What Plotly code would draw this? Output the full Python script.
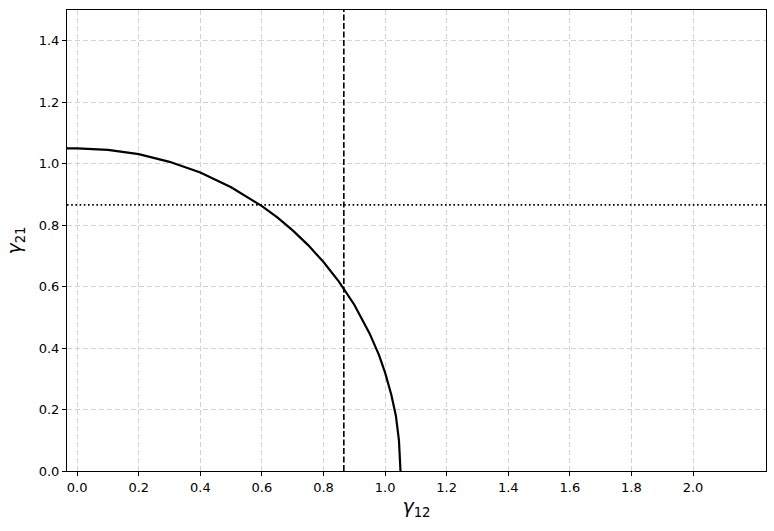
import plotly.graph_objects as go

# Curve points
curve_x = [-0.05, 0.0, 0.1, 0.2, 0.3, 0.4, 0.5, 0.6, 0.65, 0.7, 0.75, 0.8, 0.85, 0.9, 0.95, 0.98, 1.0, 1.02, 1.035, 1.045, 1.05]
curve_y = [1.05, 1.05, 1.045, 1.031, 1.006, 0.971, 0.923, 0.862, 0.825, 0.783, 0.735, 0.680, 0.616, 0.541, 0.447, 0.378, 0.320, 0.249, 0.180, 0.100, 0.0]

vline_x = 0.866
hline_y = 0.866

x_ticks = [0.0, 0.2, 0.4, 0.6, 0.8, 1.0, 1.2, 1.4, 1.6, 1.8, 2.0]
y_ticks = [0.0, 0.2, 0.4, 0.6, 0.8, 1.0, 1.2, 1.4]
x_range = [-0.033, 2.237]
y_range = [0.0, 1.5]

fig = go.Figure()
fig.add_trace(go.Scatter(x=curve_x, y=curve_y, mode="lines",
                         line=dict(color="black", width=2.2), showlegend=False))
fig.add_trace(go.Scatter(x=[vline_x, vline_x], y=y_range, mode="lines",
                         line=dict(color="black", width=1.6, dash="6px,2.5px"), showlegend=False))
fig.add_trace(go.Scatter(x=x_range, y=[hline_y, hline_y], mode="lines",
                         line=dict(color="black", width=1.6, dash="1.6px,2.6px"), showlegend=False))

axis_common = dict(
    showline=True, linecolor="black", linewidth=1, mirror=True,
    ticks="outside", ticklen=4, tickwidth=1, tickcolor="black",
    showgrid=True, gridcolor="#d3d3d3", gridwidth=0.8, griddash="5px,3px",
    zeroline=False, automargin=False,
    tickfont=dict(family="DejaVu Sans", size=13, color="black"),
)

fig.update_xaxes(range=x_range, tickvals=x_ticks, ticktext=[f"{v:.1f}" for v in x_ticks],
                 title=dict(text="<i>γ</i><sub>12</sub>", font=dict(family="DejaVu Sans", size=19, color="black"), standoff=6),
                 **axis_common)
fig.update_yaxes(range=y_range, tickvals=y_ticks, ticktext=[f"{v:.1f}" for v in y_ticks],
                 title=dict(text="<i>γ</i><sub>21</sub>", font=dict(family="DejaVu Sans", size=19, color="black"), standoff=12),
                 **axis_common)

fig.update_layout(
    width=774, height=531,
    margin=dict(l=67, r=8, t=10, b=60),
    plot_bgcolor="white", paper_bgcolor="white",
)

fig.write_html("out.html", config={"displayModeBar": False},
               post_script="document.body.style.margin='0';document.body.style.overflow='hidden';")
